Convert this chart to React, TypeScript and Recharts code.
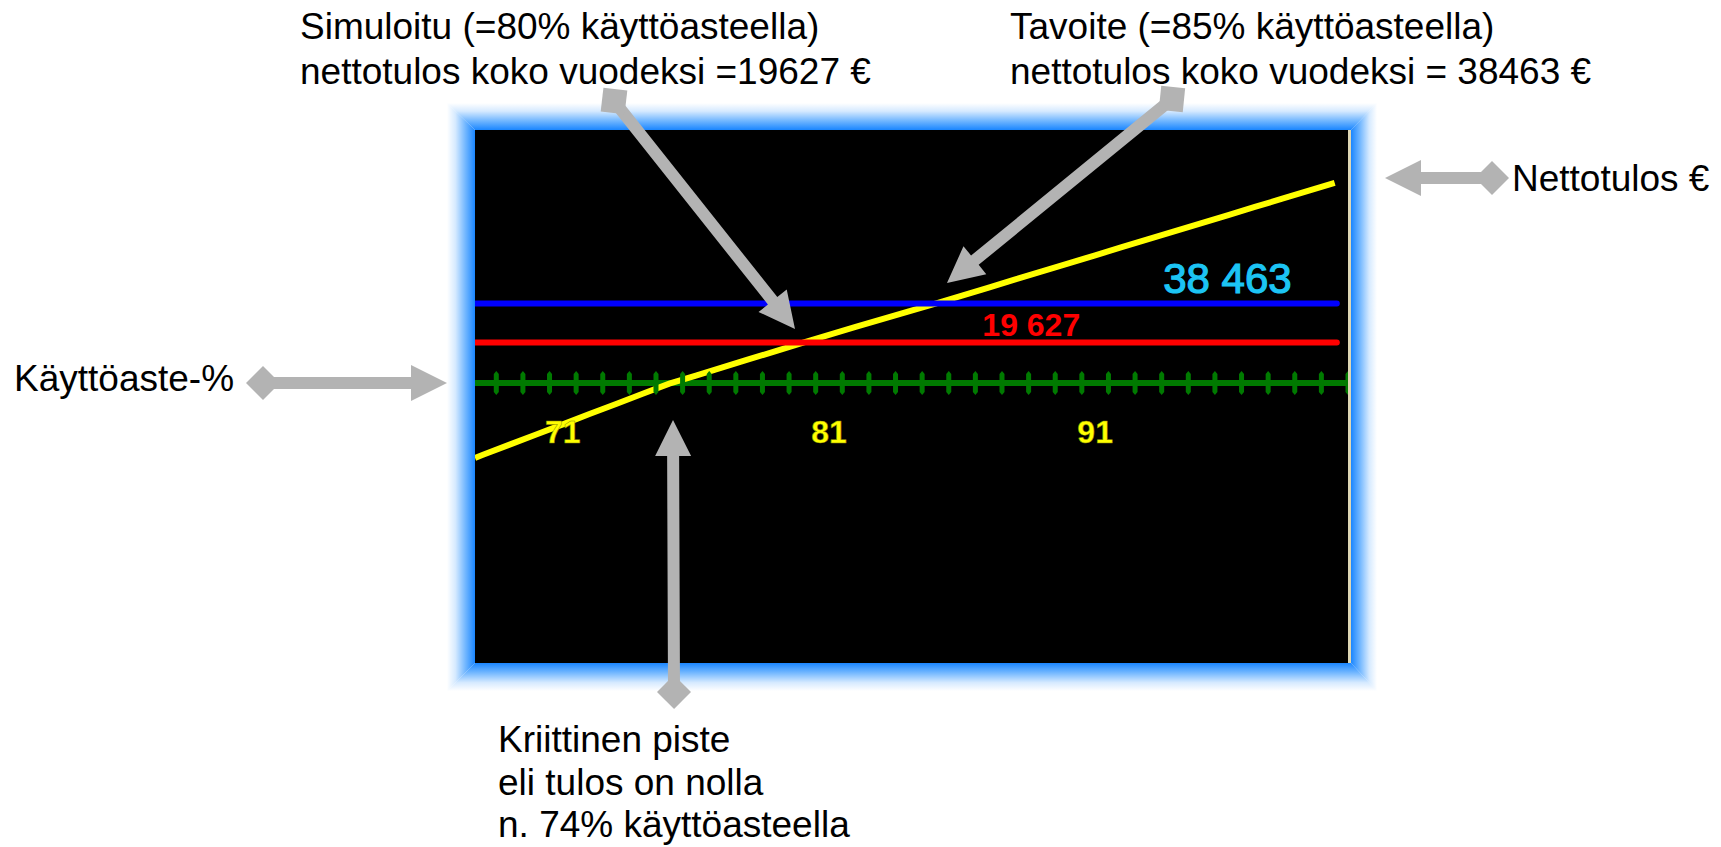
import React from 'react';
import { ComposedChart, Line, XAxis, YAxis, Scatter } from 'recharts';

// ---- data ----
const utilisation = [67.7, 68, 69, 70, 71, 72, 73, 74, 75, 76, 77, 78, 79, 80, 81, 82, 83, 84, 85, 86, 87, 88, 89, 90, 91, 92, 93, 94, 95, 96, 97, 98, 99, 100];
const netIncome = [-36200, -34700, -29800, -24900, -20000, -15000, -10100, -5200, -250, 3650, 7600, 11550, 15500, 19500, 23350, 27150, 30950, 34700, 38450, 42350, 46250, 50150, 54050, 57950, 61850, 65750, 69650, 73550, 77450, 81350, 85250, 89150, 93050, 96950];
const axisTicks = [68.5, 69.5, 70.5, 71.5, 72.5, 73.5, 74.5, 75.5, 76.5, 77.5, 78.5, 79.5, 80.5, 81.5, 82.5, 83.5, 84.5, 85.5, 86.5, 87.5, 88.5, 89.5, 90.5, 91.5, 92.5, 93.5, 94.5, 95.5, 96.5, 97.5, 98.5, 99.5, 100.5];
const axisLabels = [71, 81, 91];
const referenceRange = [67.7, 100.08];
const simulatedIncome = 19627;
const targetIncome = 38463;
const simulatedLabel = '19 627';
const targetLabel = '38 463';

const X_DOMAIN = [67.7, 100.5];
const Y_DOMAIN = [-135500, 122500];

const incomeData = utilisation.map((v, i) => ({ v, income: netIncome[i] }));
const simulatedLine = referenceRange.map((v) => ({ v, y: simulatedIncome }));
const targetLine = referenceRange.map((v) => ({ v, y: targetIncome }));
const tickData = axisTicks.map((v) => ({ v, y: 0 }));
const labelData = axisLabels.map((v) => ({ v, y: 0 }));
const valueLabels = [
  { v: 95.97, y: targetIncome, text: targetLabel, kind: 'target' },
  { v: 88.6, y: simulatedIncome, text: simulatedLabel, kind: 'sim' },
];

const W = 1721;
const H = 847;
const PLOT = { l: 475, t: 130, r: 1348, b: 663 };
const FONT = 'Liberation Sans, Arial, Helvetica, sans-serif';
const GREY = '#b3b3b3';

const TickMark = (props: any) => {
  const { cx, cy } = props;
  if (cx == null || cy == null) return null;
  const pts = [
    [cx - 2.5, cy - 9], [cx, cy - 12], [cx + 2.5, cy - 9],
    [cx + 2.5, cy + 9], [cx, cy + 12], [cx - 2.5, cy + 9],
  ].map((p) => p.join(',')).join(' ');
  return <polygon points={pts} fill="#007a00" />;
};

const AxisLabel = (props: any) => {
  const { cx, cy, payload } = props;
  if (cx == null || cy == null) return null;
  return (
    <text x={cx} y={cy + 59.5} textAnchor="middle" fontFamily={FONT} fontWeight="bold" fontSize={32} fill="#ffff00" stroke="#8a8a00" strokeWidth={0.5}>
      {payload.v}
    </text>
  );
};

const ValueLabel = (props: any) => {
  const { cx, cy, payload } = props;
  if (cx == null || cy == null) return null;
  if (payload.kind === 'target') {
    return (
      <text x={cx} y={cy - 10.5} textAnchor="middle" fontFamily={FONT} fontSize={42} fill="#1cc4f4" stroke="#1cc4f4" strokeWidth={1.2}>
        {payload.text}
      </text>
    );
  }
  return (
    <text x={cx} y={cy - 7} textAnchor="middle" fontFamily={FONT} fontWeight="bold" fontSize={32} fill="#ff0000">
      {payload.text}
    </text>
  );
};

function Arrow({ tail, tip }: { tail: number[]; tip: number[] }) {
  const dx = tip[0] - tail[0];
  const dy = tip[1] - tail[1];
  const len = Math.hypot(dx, dy);
  const ux = dx / len, uy = dy / len;
  const nx = -uy, ny = ux;
  const headLen = 36, headHalf = 18, shaftHalf = 6, dl = 17, dw = 17;
  const bx = tip[0] - ux * headLen, by = tip[1] - uy * headLen;
  const body = [
    [tip[0], tip[1]],
    [bx + nx * headHalf, by + ny * headHalf],
    [bx + nx * shaftHalf, by + ny * shaftHalf],
    [tail[0] + nx * shaftHalf, tail[1] + ny * shaftHalf],
    [tail[0] - nx * shaftHalf, tail[1] - ny * shaftHalf],
    [bx - nx * shaftHalf, by - ny * shaftHalf],
    [bx - nx * headHalf, by - ny * headHalf],
  ].map((p) => p.join(',')).join(' ');
  const diamond = [
    [tail[0] + ux * dl, tail[1] + uy * dl],
    [tail[0] + nx * dw, tail[1] + ny * dw],
    [tail[0] - ux * dl, tail[1] - uy * dl],
    [tail[0] - nx * dw, tail[1] - ny * dw],
  ].map((p) => p.join(',')).join(' ');
  return (
    <g>
      <polygon points={body} fill={GREY} />
      <polygon points={diamond} fill={GREY} />
    </g>
  );
}

function TextBlock({ x, y, lines, gap }: { x: number; y: number; lines: string[]; gap: number }) {
  return (
    <text fontFamily={FONT} fontSize={37} fill="#000">
      {lines.map((l, i) => (
        <tspan key={i} x={x} y={y + i * gap}>{l}</tspan>
      ))}
    </text>
  );
}

function Frame() {
  const O = { l: 447, t: 103, r: 1377, b: 691 };
  const I = { l: PLOT.l, t: PLOT.t, r: PLOT.r + 3, b: PLOT.b };
  const stops = (
    <>
      <stop offset="0" stopColor="#ffffff" />
      <stop offset="0.3" stopColor="#d6eaff" />
      <stop offset="0.65" stopColor="#74b8ff" />
      <stop offset="1" stopColor="#1a86ff" />
    </>
  );
  return (
    <svg width={W} height={H} style={{ position: 'absolute', left: 0, top: 0 }}>
      <defs>
        <linearGradient id="gTop" x1="0" y1="0" x2="0" y2="1">{stops}</linearGradient>
        <linearGradient id="gBottom" x1="0" y1="1" x2="0" y2="0">{stops}</linearGradient>
        <linearGradient id="gLeft" x1="0" y1="0" x2="1" y2="0">{stops}</linearGradient>
        <linearGradient id="gRight" x1="1" y1="0" x2="0" y2="0">{stops}</linearGradient>
      </defs>
      <polygon points={`${O.l},${O.t} ${O.r},${O.t} ${I.r},${I.t} ${I.l},${I.t}`} fill="url(#gTop)" />
      <polygon points={`${I.l},${I.b} ${I.r},${I.b} ${O.r},${O.b} ${O.l},${O.b}`} fill="url(#gBottom)" />
      <polygon points={`${O.l},${O.t} ${I.l},${I.t} ${I.l},${I.b} ${O.l},${O.b}`} fill="url(#gLeft)" />
      <polygon points={`${I.r},${I.t} ${O.r},${O.t} ${O.r},${O.b} ${I.r},${I.b}`} fill="url(#gRight)" />
      <rect x={PLOT.l} y={PLOT.t} width={PLOT.r - PLOT.l} height={PLOT.b - PLOT.t} fill="#000" />
      <rect x={PLOT.r} y={PLOT.t} width={3} height={PLOT.b - PLOT.t} fill="#ddd6b4" />
    </svg>
  );
}

function Annotations() {
  return (
    <svg width={W} height={H} style={{ position: 'absolute', left: 0, top: 0, pointerEvents: 'none' }}>
      <TextBlock x={300} y={39} gap={45} lines={['Simuloitu (=80% käyttöasteella)', 'nettotulos koko vuodeksi =19627 €']} />
      <TextBlock x={1010} y={39} gap={45} lines={['Tavoite (=85% käyttöasteella)', 'nettotulos koko vuodeksi = 38463 €']} />
      <TextBlock x={1512} y={191} gap={45} lines={['Nettotulos €']} />
      <TextBlock x={14} y={391} gap={45} lines={['Käyttöaste-%']} />
      <TextBlock x={498} y={752} gap={42.5} lines={['Kriittinen piste', 'eli tulos on nolla', 'n. 74% käyttöasteella']} />
      <Arrow tail={[614, 101]} tip={[795, 329]} />
      <Arrow tail={[1172, 99]} tip={[947, 283]} />
      <Arrow tail={[1492, 178]} tip={[1385, 178]} />
      <Arrow tail={[263, 383]} tip={[447, 383]} />
      <Arrow tail={[674, 692]} tip={[673, 420]} />
    </svg>
  );
}

export default function App() {
  return (
    <div style={{ position: 'absolute', left: 0, top: 0, width: W, height: H, background: '#fff', overflow: 'hidden' }}>
      <Frame />
      <div style={{ position: 'absolute', left: 0, top: 0 }}>
        <ComposedChart
          width={W}
          height={H}
          data={incomeData}
          margin={{ left: PLOT.l, top: PLOT.t, right: W - PLOT.r, bottom: H - PLOT.b }}
        >
          <XAxis type="number" dataKey="v" domain={X_DOMAIN} hide allowDataOverflow />
          <YAxis type="number" domain={Y_DOMAIN} hide allowDataOverflow />
          <Line
            data={[{ v: X_DOMAIN[0], y: 0 }, { v: X_DOMAIN[1], y: 0 }]}
            dataKey="y"
            stroke="#007a00"
            strokeWidth={6}
            dot={false}
            activeDot={false}
            isAnimationActive={false}
          />
          <Scatter data={tickData} dataKey="y" shape={TickMark} isAnimationActive={false} />
          <Scatter data={labelData} dataKey="y" shape={AxisLabel} isAnimationActive={false} />
          <Line
            dataKey="income"
            stroke="#ffff00"
            strokeWidth={6}
            dot={false}
            activeDot={false}
            isAnimationActive={false}
          />
          <Line
            data={simulatedLine}
            dataKey="y"
            stroke="#ff0000"
            strokeWidth={6}
            strokeLinecap="round"
            dot={false}
            activeDot={false}
            isAnimationActive={false}
          />
          <Line
            data={targetLine}
            dataKey="y"
            stroke="#0000ff"
            strokeWidth={6}
            strokeLinecap="round"
            dot={false}
            activeDot={false}
            isAnimationActive={false}
          />
          <Scatter data={valueLabels} dataKey="y" shape={ValueLabel} isAnimationActive={false} />
        </ComposedChart>
      </div>
      <Annotations />
    </div>
  );
}
